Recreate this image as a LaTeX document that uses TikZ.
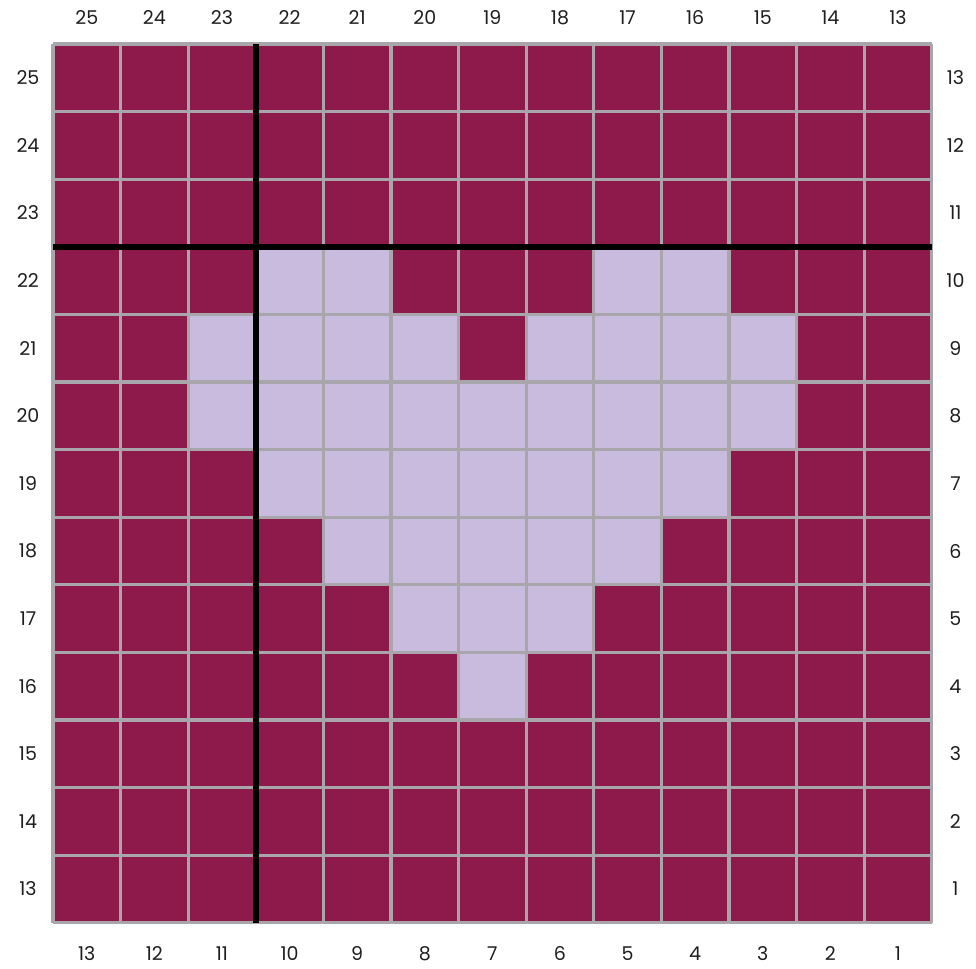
\documentclass[tikz,border=0pt]{standalone}
\usepackage{fontspec}
\setmainfont{Poppins}
\usepackage{xcolor}
\usetikzlibrary{positioning}
\definecolor{berry}{HTML}{8E1A4C}
\definecolor{lilac}{HTML}{C9BBDD}
\definecolor{gridline}{HTML}{A8A6AA}
\definecolor{ink}{HTML}{1E1E1E}

\begin{document}
\begin{tikzpicture}[x=1cm,y=-1cm,
    cellnum/.style={font=\fontsize{8}{10}\selectfont, text=ink, inner sep=0pt},
    gridrule/.style={draw=gridline, line width=1.4pt},
    guide/.style={draw=black, line width=2.6pt}]
  \useasboundingbox (-0.784,-0.651) rectangle (13.654,13.683);
  % stitches
  \fill[berry] (0,0) rectangle (13,13);
  \foreach \c/\r in {4/4,5/4,9/4,10/4,
                     3/5,4/5,5/5,6/5,8/5,9/5,10/5,11/5,
                     3/6,4/6,5/6,6/6,7/6,8/6,9/6,10/6,11/6,
                     4/7,5/7,6/7,7/7,8/7,9/7,10/7,
                     5/8,6/8,7/8,8/8,9/8,
                     6/9,7/9,8/9,
                     7/10}
    \fill[lilac] (\c-1,\r-1) rectangle (\c,\r);
  % grid
  \foreach \k in {0,...,13} {
    \draw[gridrule] (\k,0) -- (\k,13);
    \draw[gridrule] (0,\k) -- (13,\k);
  }
  \draw[guide] (3,0) -- (3,13);
  \draw[guide] (0,3) -- (13,3);
  % row and column numbers
  \foreach \i in {1,...,13} {
    \pgfmathtruncatemacro{\upnum}{26-\i}
    \pgfmathtruncatemacro{\downnum}{14-\i}
    \node[cellnum] (top-\i) at (\i-0.5,-0.385) {\upnum};
    \node[cellnum] (bottom-\i) at (\i-0.5,13.46) {\downnum};
    \node[cellnum] (left-\i) at (-0.37,\i-0.5) {\upnum};
    \node[cellnum] (right-\i) at (13.35,\i-0.5) {\downnum};
  }
\end{tikzpicture}
\end{document}
